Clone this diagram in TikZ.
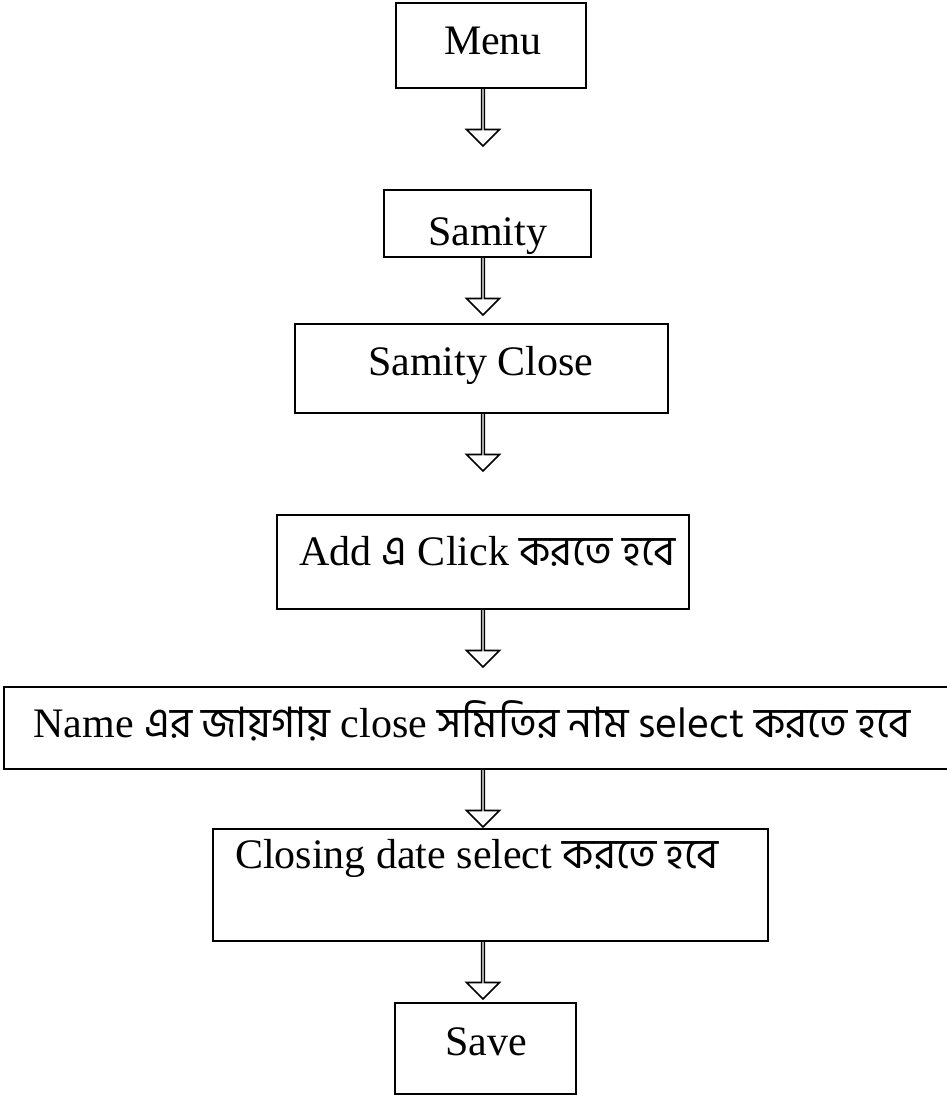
\documentclass[tikz,border=0pt]{standalone}
\usepackage{fontspec}
\setmainfont{Liberation Serif}
\newfontfamily\bn[Script=Bengali]{Hind Siliguri}
\usetikzlibrary{shapes.arrows,calc}
\tikzset{
  box/.style={draw, line width=1.8pt, inner sep=0pt, outer sep=0pt, rectangle},
  txt/.style={inner sep=0pt, outer sep=0pt, font=\fontsize{42}{48}\selectfont},
  harrow/.style={draw, line width=1.6pt, fill=white, single arrow, shape border rotate=270,
    minimum width=33pt, single arrow head extend=9pt, minimum height=58pt,
    inner sep=0pt, outer sep=0pt, anchor=tail}
}
\newcommand\harr[1]{\path let \p1=(#1.south) in node[harrow] (arr-#1) at (483pt,\y1) {};}
\begin{document}
\begin{tikzpicture}[x=1pt,y=-1pt]
\useasboundingbox (0,0) rectangle (947,1095);
\node[box, minimum width=190pt, minimum height=85pt] (menu) at (491,45.5) {};
\node[box, minimum width=207pt, minimum height=67pt] (samity) at (487.5,223.5) {};
\node[box, minimum width=373pt, minimum height=89pt] (sclose) at (481.5,368.5) {};
\node[box, minimum width=412pt, minimum height=94pt] (add) at (483,562) {};
\node[box, minimum width=961pt, minimum height=82pt] (name) at (484.5,728) {};
\node[box, minimum width=555pt, minimum height=112pt] (closing) at (490.5,885) {};
\node[box, minimum width=181pt, minimum height=91pt] (save) at (485.5,1048.5) {};

\node[txt, anchor=base west] (tmenu) at (444,54) {Menu};
\node[txt, anchor=base west] (tsamity) at (428,245) {Samity};
\node[txt, anchor=base west] (tsclose) at (368,375) {Samity Close};
\node[txt, anchor=base west] (tadd) at (299,565) {Add {\bn এ} Click {\bn করতে হবে}};
\node[txt, anchor=base] (tname) at (472,737) {Name {\bn এর জায়গায়} close {\bn সমিতির নাম select করতে হবে}};
\node[txt, anchor=base west] (tclosing) at (235,868) {Closing date select {\bn করতে হবে}};
\node[txt, anchor=base west] (tsave) at (445,1055) {Save};

\harr{menu}
\harr{samity}
\harr{sclose}
\harr{add}
\harr{name}
\harr{closing}
\end{tikzpicture}
\end{document}
